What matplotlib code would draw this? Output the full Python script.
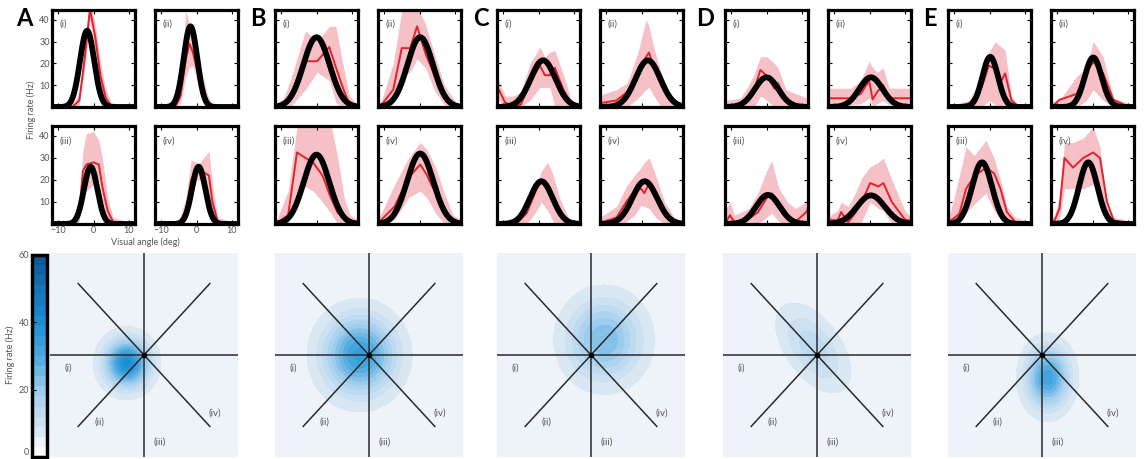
import numpy as np
import matplotlib
matplotlib.use('Agg')
import matplotlib.pyplot as plt
from matplotlib.colors import LinearSegmentedColormap

# ---------------- data ----------------
panel_letters = ['A', 'B', 'C', 'D', 'E']
direction_labels = ['(i)', '(ii)', '(iii)', '(iv)']
x_ticks = [-10, 0, 10]
y_ticks = [10, 20, 30, 40]
cbar_ticks = [0, 20, 40, 60]

# Gaussian tuning-curve fits (amplitude Hz, centre deg, width deg) for (i)..(iv)
fit_A = [(35, -1.8, 2.0), (37, -1.7, 1.9), (26, -0.8, 1.9), (26, 0.6, 1.9)]
fit_B = [(32, 0.0, 3.7), (32, 0.2, 3.6), (31.5, 0.0, 3.6), (32, 0.2, 3.7)]
fit_C = [(21.4, 1.3, 3.5), (21.4, 1.8, 3.5), (19.4, 0.8, 3.2), (19.4, 0.9, 3.5)]
fit_D = [(13.6, 0.0, 3.3), (13.6, 0.4, 3.3), (13.2, 0.4, 3.3), (13.0, 0.4, 3.9)]
fit_E = [(23, 0.2, 2.2), (22.7, 0.2, 2.4), (28, -2.1, 2.8), (28, -1.2, 2.6)]

# measured firing rates: sample angles, mean, lower and upper band
A_x = [[-11.7, -6, -4, -2.5, -1, 0.5, 2, 3.5, 5, 11.7],
       [-11.7, -6, -4.5, -3, -2, -1, 0, 1.5, 3, 4.5, 11.7],
       [-11.7, -6, -4, -3, -2, 0, 1.5, 2.5, 4, 5.5, 11.7],
       [-11.7, -5, -3, -1.5, 0, 1, 2.5, 3.5, 4.5, 6, 11.7]]
A_mean = [[0, 0, 3, 22, 45, 32, 14, 4, 0.5, 0],
          [0, 0, 5, 22, 29, 25, 18, 10, 3, 0, 0],
          [0, 0, 5, 24, 27, 28, 27, 17, 6, 1, 0],
          [0, 0, 6, 20, 25, 24, 23, 22, 10, 1, 0]]
A_lo = [[0, 0, 1, 17, 40, 26, 9, 1, 0, 0],
        [0, 0, 2, 14, 18, 19, 13, 6, 1, 0, 0],
        [0, 0, 1, 16, 15, 18, 20, 11, 2, 0, 0],
        [0, 0, 2, 13, 20, 20, 17, 14, 5, 0, 0]]
A_hi = [[0, 1, 6, 28, 48, 38, 20, 8, 2, 0],
        [0, 1, 10, 44, 38, 32, 24, 16, 6, 1, 0],
        [0, 1, 10, 33, 41, 42, 38, 30, 12, 3, 0],
        [0, 1, 12, 29, 28, 28, 31, 33, 18, 3, 0]]

B_x = [[-11.7, -9.3, -7.4, -3.1, 0.2, 3.6, 5.5, 7.4, 9.3, 11.7],
       [-11.7, -10.7, -7.4, -5, -2.6, -0.7, 1.7, 4.1, 7, 10.3, 11.7],
       [-11.7, -11.2, -8, -5.5, -3.1, -1, 1.7, 4, 6, 7.8, 9.5, 11.7],
       [-11.7, -10.7, -7, -3.1, 0.2, 2, 4.5, 7, 9.5, 11.7]]
B_mean = [[0, 1, 3, 21, 21, 27.5, 18, 9, 1, 0],
          [0, 1, 8, 27, 27, 37, 24.5, 15, 6, 0, 0],
          [0.5, 0.5, 4, 32.5, 30, 28, 22, 12, 5, 3.5, 1, 1],
          [1, 2, 8, 21, 27, 22.5, 14, 6, 1.5, 1]]
B_lo = [[0, 0, 0, 8, 16, 12, 2, 0, 0, 0],
        [0, 0, 2, 14, 16, 22, 18, 8, 1, 0, 0],
        [0, 0, 0, 15, 17, 15, 10, 5, 0, 0, 0, 0],
        [0, 0, 2, 12, 15, 12, 5, 0, 0, 0]]
B_hi = [[1, 4, 12, 35, 30, 37, 37, 20, 5, 1],
        [2, 3, 20, 44, 46, 46, 38, 25, 10, 2, 1],
        [2, 2, 15, 44, 46, 46, 46, 46, 30, 12, 4, 2],
        [3, 5, 18, 30, 37, 34, 26, 14, 4, 2]]

C_x = [[-11.7, -11.2, -9.4, -7, -5, -2.4, 0.4, 1.8, 3.2, 4.6, 7, 9.6, 11.7],
       [-11.7, -10.8, -7, -4, -1, 1.3, 2.1, 3.5, 5.5, 8, 10.5, 11.7],
       [-11.7, -6, -3.3, -0.5, 0.8, 2.6, 4.2, 5.9, 8.7, 11.7],
       [-11.7, -10.8, -7, -4.3, -2, -0.1, 0.8, 2.2, 4, 6.5, 9.2, 11.7]]
C_mean = [[9, 8, 2, 0.5, 1, 11, 19, 14.6, 14.6, 18, 8, 0.5, 0],
          [1.5, 2, 3, 7, 14, 23, 25, 18, 10, 3, 0.5, 0],
          [0, 0.5, 5, 16, 19, 16, 10, 5, 0.5, 0],
          [0.5, 1, 3, 10, 15, 16, 14, 18.6, 13, 5, 1, 0]]
C_lo = [[4, 3, 0, 0, 0, 3, 9, 9, 9, 0, 0, 0, 0],
        [0, 0, 0, 0, 4, 8, 9, 5, 0, 0, 0, 0],
        [0, 0, 0, 6, 10, 6, 1, 0, 0, 0],
        [0, 0, 0, 1, 4, 8.5, 8, 7, 3, 0, 0, 0]]
C_hi = [[13, 12, 5, 5, 7, 20, 27.5, 23, 25, 26, 15, 1, 0],
        [5, 6, 8, 11, 25, 40, 37, 27, 16, 5, 1.5, 1],
        [1, 3, 10, 18, 24, 28, 22, 12, 2, 0],
        [3, 4, 8, 17, 22, 25.6, 28, 30, 22, 10, 3, 1]]

D_x = [[-11.7, -7.4, -5.5, -3.5, -1.7, 0.2, 2.2, 3.2, 5.5, 8.4, 11.7],
       [-11.7, -5.3, -2.5, -0.1, 0.9, 2.2, 3.9, 5.5, 6.5, 11.7],
       [-11.7, -10.3, -9, -5, -2.4, 0, 1.5, 3.5, 5.9, 8.2, 11.2, 11.7],
       [-11.7, -11, -9, -8, -6, -4, -2.2, 0.2, 2.5, 3.9, 6.3, 10, 11.7]]
D_mean = [[0.5, 1, 4, 8, 17, 14, 8.5, 11, 3, 1, 0.5],
          [4, 4, 6, 12, 3.5, 7, 10, 3.5, 4, 4],
          [0, 4, 0.8, 2.3, 5.4, 11.6, 14, 10, 4, 1, 5.4, 7],
          [1.5, 2, 1.5, 5.4, 0.8, 5, 10, 18.6, 17, 18.6, 10, 2, 1.5]]
D_lo = [[0, 0, 0, 0, 5, 3, 0, 0, 0, 0, 0],
        [1, 1, 1.5, 4, 0.5, 1.5, 3, 1, 1, 1],
        [0, 0, 0, 0, 0, 3, 5, 1, 0, 0, 1, 0],
        [0, 0, 0, 0, 0, 0, 1, 10, 7, 6, 0, 0, 0]]
D_hi = [[3, 4, 8.6, 15, 23, 23, 20, 18, 8, 6, 4],
        [8.6, 8.6, 12, 21, 18, 16, 18, 8.6, 8.6, 8.6],
        [6, 10, 4, 7, 14, 24, 28.7, 16, 10, 7, 10, 11],
        [3, 4, 6, 10, 8, 14, 21, 26, 28, 30, 20, 6, 3]]

E_x = [[-11.7, -5.7, -2.1, -0.2, 1.6, 3, 4.4, 6.2, 8, 11.7],
       [-11.7, -9.3, -4.5, -1.7, 0.2, 3, 5.9, 9.7, 11.7],
       [-11.7, -10.3, -8.5, -6.6, -4.3, -1, 1.3, 3.1, 4.9, 7.2, 11.7],
       [-11.7, -10.7, -9.3, -7.9, -5.5, -2.6, 0.2, 2.1, 4.1, 6, 11.7]]
E_mean = [[0, 1.5, 9.4, 19, 17.5, 11, 15.4, 3, 0.5, 0],
          [0, 3.3, 6, 16, 20.7, 15.4, 3.3, 0.5, 0],
          [1, 2.3, 4.6, 16, 21.7, 25.6, 23, 16, 5.4, 1, 0],
          [1, 1.5, 7, 30, 25.6, 30, 32.5, 30, 10, 1.5, 0.5]]
E_lo = [[0, 0, 0, 3, 1, 0, 0, 0, 0, 0],
        [0, 0, 0, 3, 8, 3, 0, 0, 0],
        [0, 0, 2, 5, 9, 14, 6, 2, 0, 0, 0],
        [0, 0, 2, 16, 16, 16, 18, 12, 1, 0, 0]]
E_hi = [[0.5, 3, 14, 25, 30, 28, 26, 5, 1, 0.5],
        [1.5, 3, 14, 18, 30, 23, 4, 2, 1],
        [2, 10, 22, 35, 31, 38, 30, 20, 8, 3, 1],
        [2, 4, 12, 37, 37, 39, 44, 35, 8, 3, 1]]

fits = [fit_A, fit_B, fit_C, fit_D, fit_E]
xs_all = [A_x, B_x, C_x, D_x, E_x]
means = [A_mean, B_mean, C_mean, D_mean, E_mean]
los = [A_lo, B_lo, C_lo, D_lo, E_lo]
his = [A_hi, B_hi, C_hi, D_hi, E_hi]

# 2-D receptive-field estimate: (peak Hz, centre x, centre y, width along, width across, angle deg)
field_params = [(36, -1.8, -0.8, 1.5, 1.5, 0),
                (30, -1.0, 0.0, 2.4, 2.4, 0),
                (20, 1.4, 1.5, 2.5, 2.5, 0),
                (10, -0.4, 0.7, 2.9, 1.6, -50),
                (28, 0.6, -2.2, 1.45, 1.9, 0)]
field_baseline = 4
heat_labels_pos = [(-8.0, -1.3), (-4.7, -6.6), (1.7, -8.5), (7.5, -5.7)]

# ---------------- layout ----------------
plt.rcParams['font.family'] = ['Lato', 'DejaVu Sans']
W, H = 1144, 459
fig = plt.figure(figsize=(W / 100, H / 100), dpi=100)


def ax_px(x0, y0, x1, y1):
    return fig.add_axes([x0 / W, 1 - y1 / H, (x1 - x0) / W, (y1 - y0) / H])


group_left = [52, 275, 497, 725, 948]
heat_left = [50, 275, 497, 723, 948]
letter_x = [24, 258, 481, 705, 930]
gray = '#555555'

xs = np.linspace(-11.7, 11.7, 400)
for g in range(5):
    L = group_left[g]
    for k in range(4):
        col, row = k % 2, k // 2
        x0 = L + col * 103
        y0, y1 = (10, 107) if row == 0 else (126, 224)
        ax = ax_px(x0, y0, x0 + 83, y1)
        xk = xs_all[g][k]
        ax.fill_between(xk, los[g][k], his[g][k], color='#f5b9c1', lw=0, alpha=0.9)
        ax.plot(xk, means[g][k], color='#e2232c', lw=1.4)
        amp, mu, sig = fits[g][k]
        ax.plot(xs, amp * np.exp(-(xs - mu) ** 2 / (2 * sig ** 2)), color='black', lw=4.2,
                solid_capstyle='butt')
        ax.set_xlim(-11.7, 11.7)
        ax.set_ylim(0, 44.5)
        ax.set_xticks(x_ticks)
        ax.set_yticks(y_ticks)
        ax.tick_params(direction='in', length=3, width=0.8, top=True, right=True,
                       labelsize=6.5, labelcolor=gray, pad=1.5)
        if not (g == 0 and col == 0):
            ax.set_yticklabels([])
        if not (g == 0 and row == 1):
            ax.set_xticklabels([])
        for s in ax.spines.values():
            s.set_linewidth(2.3)
        ax.text(0.09, 0.85, direction_labels[k], transform=ax.transAxes, fontsize=7,
                color=gray, va='center', ha='left')
    fig.text(letter_x[g] / W, 1 - 18 / H, panel_letters[g], fontsize=17, weight='bold',
             ha='center', va='center')

fig.text(31 / W, 1 - 110 / H, 'Firing rate (Hz)', rotation=90, ha='center', va='center',
         fontsize=6.5, color=gray)
fig.text(145 / W, 1 - 242 / H, 'Visual angle (deg)', ha='center', va='center',
         fontsize=6.5, color=gray)

# heat maps
cmap = LinearSegmentedColormap.from_list('rf', [(0, '#ffffff'), (0.075, '#edf3f8'),
                                               (0.125, '#d9e7f3'), (0.33, '#9ccbec'),
                                               (0.5, '#4aa8e0'), (0.67, '#1a8fd4'),
                                               (0.85, '#1570b5'), (1, '#0c5790')])
levels = np.arange(0, 63, 3)
gx = np.linspace(-10, 10, 301)
GX, GY = np.meshgrid(gx, gx)
cs0 = None
for g in range(5):
    hl = heat_left[g]
    ax = ax_px(hl, 253, hl + 188, 457)
    peak, cx, cy, sa, sb, th = field_params[g]
    t = np.deg2rad(th)
    u = (GX - cx) * np.cos(t) + (GY - cy) * np.sin(t)
    v = -(GX - cx) * np.sin(t) + (GY - cy) * np.cos(t)
    Z = field_baseline + peak * np.exp(-(u ** 2 / (2 * sa ** 2) + v ** 2 / (2 * sb ** 2)))
    cs = ax.contourf(GX, GY, Z, levels=levels, cmap=cmap, vmin=0, vmax=60)
    if cs0 is None:
        cs0 = cs
    lc = '#2a2a2a'
    ax.plot([-10, 10], [0, 0], color=lc, lw=1.1)
    ax.plot([0, 0], [-10, 10], color=lc, lw=1.1)
    ax.plot([-7, 7], [-7, 7], color=lc, lw=1.1)
    ax.plot([-7, 7], [7, -7], color=lc, lw=1.1)
    ax.plot([0], [0], 'o', color='black', ms=3)
    for (tx, ty), lab in zip(heat_labels_pos, direction_labels):
        ax.text(tx, ty, lab, fontsize=7, color=gray, ha='center', va='center')
    ax.set_xlim(-10, 10)
    ax.set_ylim(-10, 10)
    ax.axis('off')

cax = ax_px(32, 255, 47, 457)
cb = fig.colorbar(cs0, cax=cax, ticks=cbar_ticks)
cb.outline.set_linewidth(2.5)
cax.yaxis.set_ticks_position('left')
cax.tick_params(direction='in', length=3, width=0.8, labelsize=6.5, labelcolor=gray, pad=2)
for lab in cax.get_yticklabels():
    if lab.get_text() == '0':
        lab.set_va('bottom')
fig.text(10 / W, 1 - 355 / H, 'Firing rate (Hz)', rotation=90, ha='center', va='center',
         fontsize=6.5, color=gray)

fig.savefig('out.png', dpi=100)
